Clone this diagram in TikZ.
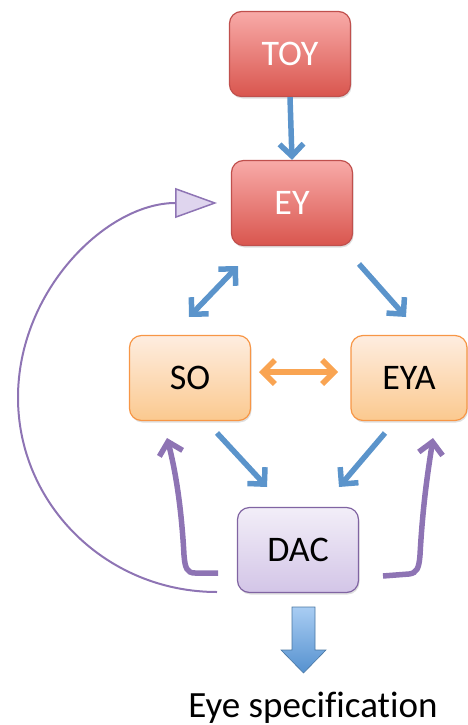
\documentclass[tikz,border=0pt]{standalone}
\usepackage{fontspec}
\setmainfont[Ligatures={NoCommon,NoDiscretionary,NoRequired,NoContextual}]{Carlito}
\usetikzlibrary{arrows.meta,shadows}
\definecolor{redtop}{HTML}{F8AAA8}
\definecolor{redbot}{HTML}{D9564E}
\definecolor{redline}{HTML}{C0504D}
\definecolor{orgtop}{HTML}{FEEDE0}
\definecolor{orgbot}{HTML}{FBC98F}
\definecolor{orgline}{HTML}{F79646}
\definecolor{purtop}{HTML}{F2EEF8}
\definecolor{purbot}{HTML}{D3C5E7}
\definecolor{purline}{HTML}{8064A2}
\definecolor{bluearr}{HTML}{5B94CB}
\definecolor{orgarr}{HTML}{F9A452}
\definecolor{purarr}{HTML}{8E74B4}
\definecolor{bigtop}{HTML}{A9CDF3}
\definecolor{bigbot}{HTML}{5591CF}
\tikzset{
  box/.style={rounded corners=12pt, minimum width=121pt, minimum height=85pt,
    line width=1.2pt, font=\fontsize{36}{40}\selectfont, inner sep=0pt,
    drop shadow={shadow xshift=1pt, shadow yshift=-2pt, opacity=0.25}},
  redbox/.style={box, draw=redline, top color=redtop, bottom color=redbot, text=white},
  orgbox/.style={box, draw=orgline, top color=orgtop, bottom color=orgbot, text=black},
  purbox/.style={box, draw=purline, top color=purtop, bottom color=purbot, text=black},
  barb/.tip={Straight Barb[length=12pt, width=24pt, line width=5.5pt]},
  bluelink/.style={draw=bluearr, line width=5.5pt, -barb},
  bluedouble/.style={draw=bluearr, line width=5.5pt, barb-barb},
  orglink/.style={draw=orgarr, line width=5.5pt, barb-barb},
  hook/.style={draw=purarr, line width=5.5pt, -barb},
  loop/.style={draw=purarr, line width=2pt,
    -{Triangle[length=42pt, width=30pt, fill=purtop!40!purbot, line width=1.5pt]}},
}
\begin{document}
\begin{tikzpicture}[x=1pt,y=-1pt]
\useasboundingbox (0,0) rectangle (467,725);
\node[redbox] (toy) at (290,54) {TOY};
\node[redbox] (ey) at (292,203) {EY};
\node[orgbox] (so) at (190,378) {SO};
\node[orgbox, minimum width=116pt] (eya) at (409,378) {EYA};
\node[purbox] (dac) at (298,550) {DAC};
\node[anchor=base, font=\fontsize{37}{42}\selectfont] (spec) at (313,717) {Eye specification};

% blue connectors
\draw[bluelink] (toy.south) -- (ey.north);
\coordinate (a1) at (238,266); \coordinate (a2) at (189,317);
\draw[bluedouble] (a1) -- (a2);
\coordinate (b1) at (359,264); \coordinate (b2) at (406,317);
\draw[bluelink] (b1) -- (b2);
\coordinate (c1) at (217,433); \coordinate (c2) at (267,487);
\draw[bluelink] (c1) -- (c2);
\coordinate (d1) at (385,433); \coordinate (d2) at (339,487);
\draw[bluelink] (d1) -- (d2);
% orange
\coordinate (o1) at (259,372); \coordinate (o2) at (338,372);
\draw[orglink] (o1) -- (o2);
% purple hooks
\coordinate (h1) at (218,573); \coordinate (h2) at (167,438);
\draw[hook] (h1) -- (195,573) .. controls (187,573) and (185,568) .. (184,555)
  .. controls (181,500) and (174,465) .. (h2);
\coordinate (k1) at (383,576); \coordinate (k2) at (433,438);
\draw[hook] (k1) -- (409,574) .. controls (417,573) and (419,568) .. (420,555)
  .. controls (423,500) and (429,465) .. (k2);
% big loop
\coordinate (l1) at (217,592); \coordinate (l2) at (217,203);
\draw[loop] (l1) .. controls (107,592) and (18,505) .. (18,397.5)
  .. controls (18,290) and (107,203) .. (l2);
% big output arrow
\coordinate (p) at (304,607);
\shade[top color=bigtop, bottom color=bigbot, draw=bluearr!80!black, line width=0.6pt]
  (292,607) -- (315,607) -- (315,650) -- (326,650) -- (303.5,673) -- (281,650) -- (292,650) -- cycle;
\end{tikzpicture}
\end{document}
